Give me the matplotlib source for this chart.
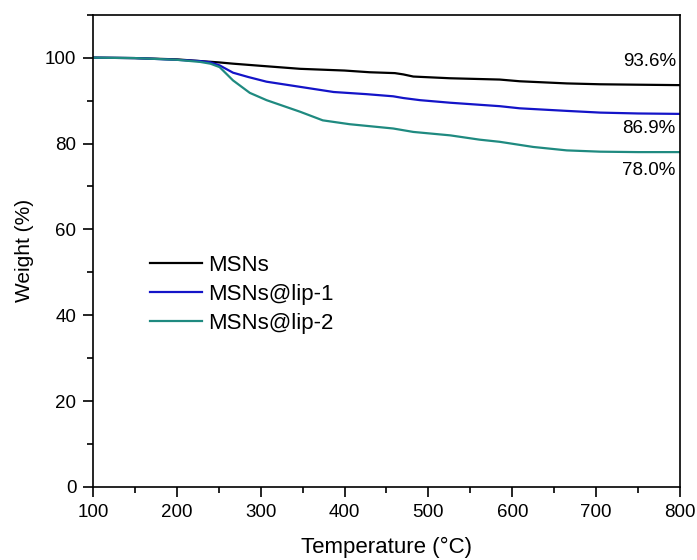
import matplotlib
matplotlib.use("Agg")
import matplotlib.pyplot as plt
from matplotlib.ticker import MultipleLocator

plt.rcParams['font.family'] = ['Liberation Sans', 'DejaVu Sans']

# TGA curves: temperature (°C) vs residual weight (%)
temp_msn = [100, 150, 200, 228, 250, 267, 300, 347, 400, 430, 460, 470, 482, 526, 585, 609, 665, 705, 750, 800]
weight_msn = [100.0, 99.9, 99.6, 99.2, 98.9, 98.6, 98.1, 97.4, 97.0, 96.6, 96.4, 96.1, 95.6, 95.2, 94.9, 94.5, 94.0, 93.8, 93.7, 93.6]

temp_lip1 = [100, 150, 200, 228, 240, 251, 267, 285, 307, 347, 387, 426, 458, 470, 490, 526, 585, 609, 665, 705, 750, 800]
weight_lip1 = [100.0, 99.9, 99.5, 99.2, 98.9, 98.2, 96.5, 95.5, 94.4, 93.2, 92.0, 91.5, 91.0, 90.6, 90.1, 89.5, 88.7, 88.2, 87.6, 87.2, 87.0, 86.9]

temp_lip2 = [100, 150, 200, 228, 240, 251, 267, 287, 307, 347, 374, 406, 458, 482, 526, 561, 585, 625, 665, 705, 750, 800]
weight_lip2 = [100.0, 99.9, 99.5, 99.0, 98.6, 97.8, 94.7, 91.8, 90.1, 87.4, 85.4, 84.5, 83.5, 82.7, 81.9, 80.9, 80.4, 79.2, 78.4, 78.1, 78.0, 78.0]

series_names = ["MSNs", "MSNs@lip-1", "MSNs@lip-2"]
series_colors = ["#000000", "#1414c8", "#1f8a80"]
final_labels = ["93.6%", "86.9%", "78.0%"]
label_y = [99.0, 83.4, 73.6]

fig = plt.figure(figsize=(6.97, 5.6), dpi=100)
ax = fig.add_axes([0.1334, 0.1304, 0.8422, 0.8433])

for t, w, name, c in zip([temp_msn, temp_lip1, temp_lip2],
                         [weight_msn, weight_lip1, weight_lip2],
                         series_names, series_colors):
    ax.plot(t, w, color=c, lw=1.6, label=name)

for txt, y in zip(final_labels, label_y):
    ax.text(795, y, txt, ha='right', va='center', fontsize=13.5)

ax.set_xlim(100, 800)
ax.set_ylim(0, 110)
ax.set_xticks(range(100, 801, 100))
ax.set_yticks(range(0, 101, 20))
ax.xaxis.set_minor_locator(MultipleLocator(50))
ax.yaxis.set_minor_locator(MultipleLocator(10))
ax.tick_params(which='both', direction='out', top=False, right=False, labelsize=13.5, width=1.2)
ax.tick_params(which='major', length=7, pad=5)
ax.tick_params(which='minor', length=4)
for s in ax.spines.values():
    s.set_linewidth(1.2)

ax.set_xlabel("Temperature (°C)", fontsize=16, labelpad=12)
ax.set_ylabel("Weight (%)", fontsize=15, labelpad=8)

ax.legend(loc='upper left', bbox_to_anchor=(0.097, 0.492), frameon=False,
          fontsize=16, handlelength=2.35, handletextpad=0.27, labelspacing=0.36,
          borderaxespad=0, borderpad=0)

fig.savefig("out.png", dpi=100)
